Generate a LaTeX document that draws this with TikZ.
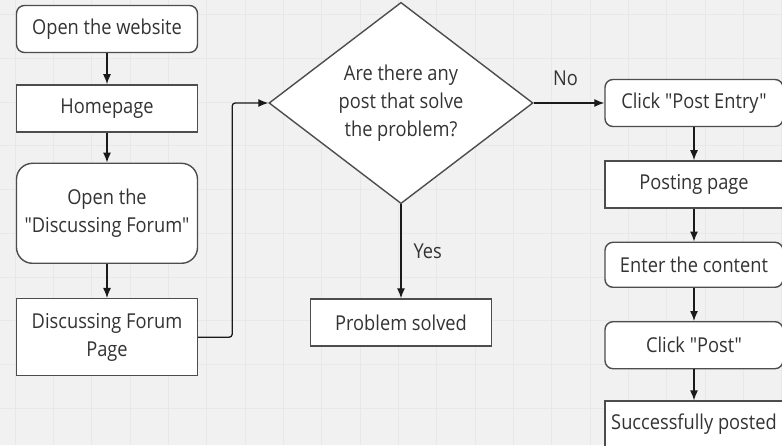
\documentclass[tikz,border=0pt]{standalone}
\usepackage{fontspec}
\setmainfont[FakeStretch=0.89, Ligatures=TeXOff]{Open Sans}
\usepackage{xcolor}
\usepackage{tikz}
\usetikzlibrary{arrows.meta, positioning, shapes.geometric, backgrounds}

\definecolor{boardbg}{HTML}{F1F1F1}
\definecolor{gridline}{HTML}{E8E8E8}
\definecolor{inkgray}{HTML}{333333}
\definecolor{edgegray}{HTML}{4D4D4D}
\definecolor{wiregray}{HTML}{1A1A1A}

\begin{document}
\begin{tikzpicture}[
    x=1pt, y=1pt,
    box/.style={rectangle, draw=edgegray, line width=1.4pt, fill=white, text=inkgray,
                minimum width=181pt, minimum height=47pt, align=center, inner sep=2pt,
                font=\fontsize{20.5}{28}\selectfont},
    roundbox/.style={box, rounded corners=8pt},
    sidebox/.style={minimum width=178pt},
    decision/.style={diamond, draw=edgegray, line width=1.4pt, fill=white, text=inkgray,
                     minimum width=264pt, minimum height=194pt, align=center, inner sep=0pt,
                     font=\fontsize{20.5}{28}\selectfont},
    flow/.style={-{Latex[length=10pt, width=8pt]}, line width=1.3pt, draw=wiregray},
    edgetext/.style={text=inkgray, inner sep=2pt, font=\fontsize{20.5}{28}\selectfont}
]

\useasboundingbox (0,0) rectangle (782,445);
\fill[boardbg] (0,0) rectangle (782,445);
\foreach \gx in {0,...,20}
    \draw[gridline, line width=0.8pt] ({15+38.33*\gx},0) -- ++(0,445);
\foreach \gy in {0,...,9}
    \draw[gridline, line width=0.8pt] (0,{430.5-43.75*\gy}) -- ++(782,0);

\node[roundbox] (Website) at (107,416) {Open the website};
\node[box] (Homepage) [below=31pt of Website] {Homepage};
\node[roundbox, rounded corners=16pt, minimum height=100pt] (OpenForum) [below=30pt of Homepage]
    {Open the\\"Discussing Forum"};
\node[box, minimum height=77pt] (ForumPage) [below=34pt of OpenForum] {Discussing Forum\\Page};

\node[decision] (Question) at (401,342) {Are there any\\post that solve\\the problem?};
\node[box] (Solved) [below=94pt of Question] {Problem solved};

\node[roundbox, sidebox] (PostEntry) at (694,342) {Click "Post Entry"};
\node[box, sidebox] (PostingPage) [below=33pt of PostEntry] {Posting page};
\node[roundbox, sidebox, minimum height=45pt] (Content) [below=33pt of PostingPage] {Enter the content};
\node[roundbox, sidebox] (ClickPost) [below=33pt of Content] {Click "Post"};
\node[box, sidebox] (Posted) [below=31pt of ClickPost] {Successfully posted};

\draw[flow] (Website) -- (Homepage);
\draw[flow] (Homepage) -- (OpenForum);
\draw[flow] (OpenForum) -- (ForumPage);
\draw[flow, rounded corners=3pt] (ForumPage.east) -- ++(34,0) |- (Question.west);
\draw[flow] (Question) -- node[edgetext, pos=0.45, above=15pt] {No} (PostEntry);
\draw[flow] (Question) -- node[edgetext, right=10pt] {Yes} (Solved);
\draw[flow] (PostEntry) -- (PostingPage);
\draw[flow] (PostingPage) -- (Content);
\draw[flow] (Content) -- (ClickPost);
\draw[flow] (ClickPost) -- (Posted);

\end{tikzpicture}
\end{document}
